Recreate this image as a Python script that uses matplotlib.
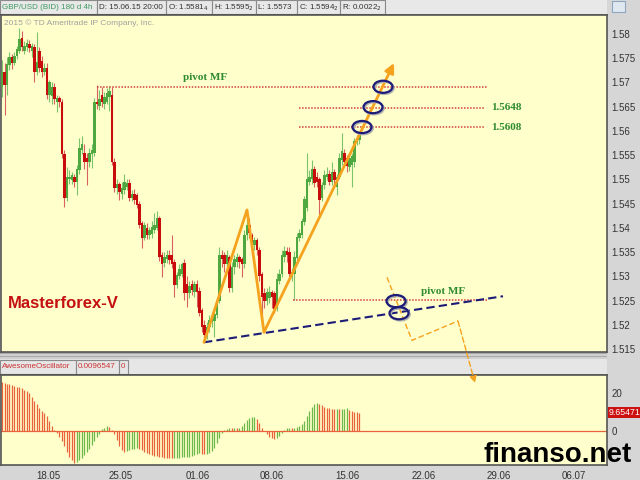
import matplotlib.pyplot as plt
from matplotlib.patches import Ellipse, Rectangle
import numpy as np

# GBP/USD 4h candles, bar index 0..143 (last bar = 15.06.15 20:00)
opens = [1.5690, 1.5722, 1.5695, 1.5735, 1.5752, 1.5740, 1.5755, 1.5765, 1.5792, 1.5765,
         1.5772, 1.5780, 1.5765, 1.5772, 1.5722, 1.5765, 1.5745, 1.5722, 1.5730, 1.5674,
         1.5672, 1.5690, 1.5660, 1.5667, 1.5660, 1.5552, 1.5462, 1.5500, 1.5498, 1.5505,
         1.5495, 1.5520, 1.5560, 1.5555, 1.5545, 1.5535, 1.5552, 1.5555, 1.5660, 1.5652,
         1.5675, 1.5655, 1.5660, 1.5670, 1.5675, 1.5536, 1.5482, 1.5490, 1.5470, 1.5478,
         1.5485, 1.5492, 1.5462, 1.5470, 1.5468, 1.5450, 1.5410, 1.5380, 1.5400, 1.5385,
         1.5388, 1.5395, 1.5400, 1.5420, 1.5345, 1.5328, 1.5335, 1.5345, 1.5345, 1.5330,
         1.5282, 1.5300, 1.5305, 1.5328, 1.5285, 1.5265, 1.5285, 1.5268, 1.5285, 1.5270,
         1.5230, 1.5200, 1.5180, 1.5195, 1.5205, 1.5208, 1.5220, 1.5250, 1.5345, 1.5345,
         1.5325, 1.5340, 1.5275, 1.5320, 1.5330, 1.5340, 1.5335, 1.5325, 1.5385, 1.5405,
         1.5385, 1.5365, 1.5375, 1.5355, 1.5305, 1.5265, 1.5250, 1.5255, 1.5268, 1.5265,
         1.5235, 1.5290, 1.5305, 1.5340, 1.5352, 1.5350, 1.5300, 1.5305, 1.5338, 1.5380,
         1.5385, 1.5412, 1.5440, 1.5495, 1.5500, 1.5522, 1.5505, 1.5500, 1.5462, 1.5488,
         1.5505, 1.5512, 1.5495, 1.5515, 1.5485, 1.5505, 1.5540, 1.5555, 1.5545, 1.5525,
         1.5530, 1.5535, 1.5578, 1.5581]
highs = [1.5746, 1.5741, 1.5752, 1.5762, 1.5758, 1.5762, 1.5775, 1.5812, 1.5805, 1.5785,
         1.5790, 1.5788, 1.5782, 1.5780, 1.5804, 1.5772, 1.5755, 1.5740, 1.5740, 1.5705,
         1.5700, 1.5698, 1.5675, 1.5672, 1.5665, 1.5560, 1.5525, 1.5520, 1.5515, 1.5512,
         1.5530, 1.5585, 1.5590, 1.5572, 1.5555, 1.5565, 1.5572, 1.5668, 1.5695, 1.5685,
         1.5690, 1.5680, 1.5688, 1.5693, 1.5690, 1.5545, 1.5500, 1.5495, 1.5495, 1.5512,
         1.5500, 1.5500, 1.5478, 1.5480, 1.5472, 1.5455, 1.5415, 1.5412, 1.5410, 1.5402,
         1.5415, 1.5430, 1.5435, 1.5425, 1.5350, 1.5350, 1.5355, 1.5355, 1.5385, 1.5335,
         1.5310, 1.5325, 1.5330, 1.5335, 1.5300, 1.5290, 1.5292, 1.5290, 1.5292, 1.5278,
         1.5235, 1.5210, 1.5205, 1.5220, 1.5222, 1.5235, 1.5250, 1.5360, 1.5355, 1.5350,
         1.5355, 1.5345, 1.5330, 1.5345, 1.5348, 1.5345, 1.5340, 1.5395, 1.5437, 1.5420,
         1.5390, 1.5382, 1.5380, 1.5360, 1.5310, 1.5275, 1.5275, 1.5280, 1.5272, 1.5270,
         1.5307, 1.5315, 1.5355, 1.5362, 1.5360, 1.5360, 1.5318, 1.5352, 1.5390, 1.5398,
         1.5420, 1.5465, 1.5555, 1.5520, 1.5540, 1.5528, 1.5515, 1.5505, 1.5495, 1.5520,
         1.5525, 1.5520, 1.5535, 1.5522, 1.5512, 1.5555, 1.5596, 1.5562, 1.5550, 1.5552,
         1.5555, 1.5585, 1.5592, 1.5595]
lows = [1.5670, 1.5633, 1.5674, 1.5725, 1.5728, 1.5735, 1.5748, 1.5760, 1.5765, 1.5758,
        1.5765, 1.5762, 1.5752, 1.5700, 1.5715, 1.5722, 1.5712, 1.5715, 1.5665, 1.5660,
        1.5655, 1.5655, 1.5638, 1.5650, 1.5545, 1.5443, 1.5455, 1.5490, 1.5490, 1.5485,
        1.5468, 1.5512, 1.5552, 1.5522, 1.5488, 1.5525, 1.5523, 1.5548, 1.5645, 1.5643,
        1.5650, 1.5645, 1.5655, 1.5640, 1.5530, 1.5475, 1.5470, 1.5457, 1.5460, 1.5470,
        1.5478, 1.5455, 1.5455, 1.5450, 1.5440, 1.5400, 1.5358, 1.5375, 1.5378, 1.5378,
        1.5380, 1.5390, 1.5395, 1.5332, 1.5298, 1.5320, 1.5328, 1.5325, 1.5318, 1.5257,
        1.5275, 1.5295, 1.5298, 1.5251, 1.5237, 1.5255, 1.5262, 1.5258, 1.5237, 1.5218,
        1.5185, 1.5164, 1.5170, 1.5185, 1.5195, 1.5175, 1.5215, 1.5245, 1.5320, 1.5310,
        1.5318, 1.5268, 1.5268, 1.5305, 1.5320, 1.5318, 1.5298, 1.5318, 1.5375, 1.5380,
        1.5355, 1.5355, 1.5345, 1.5290, 1.5195, 1.5235, 1.5240, 1.5245, 1.5235, 1.5225,
        1.5228, 1.5285, 1.5298, 1.5330, 1.5330, 1.5298, 1.5290, 1.5251, 1.5330, 1.5372,
        1.5380, 1.5405, 1.5435, 1.5488, 1.5490, 1.5485, 1.5485, 1.5426, 1.5455, 1.5480,
        1.5498, 1.5488, 1.5488, 1.5490, 1.5468, 1.5500, 1.5530, 1.5525, 1.5515, 1.5518,
        1.5485, 1.5525, 1.5570, 1.5573]
closes = [1.5722, 1.5695, 1.5737, 1.5752, 1.5740, 1.5755, 1.5768, 1.5790, 1.5772, 1.5775,
          1.5782, 1.5770, 1.5775, 1.5722, 1.5742, 1.5730, 1.5722, 1.5730, 1.5674, 1.5700,
          1.5690, 1.5665, 1.5667, 1.5660, 1.5552, 1.5462, 1.5505, 1.5505, 1.5508, 1.5495,
          1.5522, 1.5565, 1.5572, 1.5535, 1.5535, 1.5555, 1.5560, 1.5660, 1.5655, 1.5665,
          1.5660, 1.5670, 1.5678, 1.5682, 1.5536, 1.5482, 1.5490, 1.5475, 1.5482, 1.5495,
          1.5492, 1.5462, 1.5470, 1.5458, 1.5448, 1.5405, 1.5380, 1.5405, 1.5385, 1.5395,
          1.5402, 1.5405, 1.5420, 1.5340, 1.5325, 1.5340, 1.5345, 1.5333, 1.5325, 1.5283,
          1.5302, 1.5315, 1.5325, 1.5265, 1.5265, 1.5280, 1.5272, 1.5285, 1.5268, 1.5225,
          1.5195, 1.5180, 1.5195, 1.5210, 1.5212, 1.5222, 1.5245, 1.5345, 1.5335, 1.5325,
          1.5345, 1.5275, 1.5320, 1.5335, 1.5340, 1.5330, 1.5325, 1.5385, 1.5405, 1.5390,
          1.5365, 1.5375, 1.5355, 1.5300, 1.5258, 1.5250, 1.5268, 1.5268, 1.5258, 1.5232,
          1.5295, 1.5305, 1.5345, 1.5352, 1.5345, 1.5305, 1.5308, 1.5340, 1.5382, 1.5390,
          1.5415, 1.5460, 1.5500, 1.5505, 1.5522, 1.5492, 1.5495, 1.5458, 1.5488, 1.5510,
          1.5512, 1.5495, 1.5515, 1.5498, 1.5505, 1.5545, 1.5558, 1.5535, 1.5528, 1.5545,
          1.5548, 1.5580, 1.5581, 1.5594]

# Awesome Oscillator (x 1e-4)
ao = [25.8, 25.4, 25.0, 24.6, 24.2, 23.8, 23.4, 23.0, 22.5, 21.8,
      21.0, 19.8, 18.0, 16.0, 14.0, 12.0, 10.8, 9.5, 8.0, 5.5,
      2.5, 0.5, -1.0, -3.0, -5.5, -8.0, -11.0, -13.5, -15.5, -16.8,
      -16.4, -15.5, -14.2, -12.8, -11.2, -9.4, -7.4, -5.4, -3.4, -1.6,
      0.8, 1.8, 2.6, 2.2, 0.6, -1.8, -4.7, -8.0, -10.0, -10.9,
      -10.6, -10.2, -9.6, -9.4, -9.1, -9.3, -10.2, -10.9, -11.6, -12.2,
      -12.7, -13.0, -13.2, -13.5, -13.8, -14.1, -14.3, -14.4, -14.4, -14.3,
      -14.1, -14.0, -13.9, -13.8, -13.6, -13.5, -13.1, -12.7, -12.3, -11.8,
      -11.9, -12.1, -12.0, -11.8, -10.6, -9.0, -6.5, -3.5, -1.2, 0.4,
      1.2, 1.5, 1.4, 1.6, 1.5, 1.7, 2.8, 4.2, 5.6, 6.6,
      7.3, 7.6, 6.5, 4.2, 1.8, 0.2, -1.5, -3.0, -3.8, -4.0,
      -3.5, -2.8, -1.2, 0.6, 1.5, 1.8, 1.6, 1.8, 2.0, 2.6,
      3.6, 5.5, 8.0, 10.5, 12.6, 14.2, 14.6, 14.3, 13.6, 12.8,
      12.2, 11.9, 11.6, 11.4, 11.6, 11.5, 11.7, 11.8, 11.9, 11.2,
      10.5, 10.2, 9.9, 9.65]

price_ticks = [1.515, 1.52, 1.525, 1.53, 1.535, 1.54, 1.545, 1.55, 1.555, 1.56, 1.565, 1.57, 1.575, 1.58]
price_labels = ['1.515', '1.52', '1.525', '1.53', '1.535', '1.54', '1.545', '1.55', '1.555', '1.56',
                '1.565', '1.57', '1.575', '1.58']
date_labels = ['18.05', '25.05', '01.06', '08.06', '15.06', '22.06', '29.06', '06.07']
date_pos = [18.4, 47.6, 78.4, 108.0, 138.0, 168.8, 198.8, 228.8]

# annotation levels
pivot_top = 1.5691
level_1 = 1.5648
level_2 = 1.5608
pivot_low = 1.5251
wave_x = [80.8, 98.0, 104.8]
wave_y = [1.5164, 1.5437, 1.5185]
target = (156.8, 1.5740)
trend_x = [80.8, 200.4]
trend_y = [1.5164, 1.5259]
proj_x = [154.0, 164.0, 182.4]
proj_y = [1.5298, 1.5168, 1.5208]
proj_end = (189.2, 1.5080)
ring_x = [152.4, 148.4, 144.0, 157.6, 158.8]
ring_y = [1.5691, 1.5649, 1.5608, 1.5249, 1.5224]

W, H = 640, 480
def rect(x0, y0, x1, y1):
    return [x0 / W, 1 - y1 / H, (x1 - x0) / W, (y1 - y0) / H]

plt.rcParams['font.family'] = ['Liberation Sans', 'DejaVu Sans']
fig = plt.figure(figsize=(6.4, 4.8), dpi=100, facecolor='#d6d6d6')

yellow = '#ffffcc'
orange = '#f5a21e'
navy = '#1c1c78'
txt_gray = '#333333'

# ---- main price panel ----
ax = fig.add_axes(rect(1, 15, 607, 352))
ax.set_zorder(5)
ax.set_facecolor(yellow)
x = np.arange(len(closes))
o = np.array(opens); h = np.array(highs); l = np.array(lows); c = np.array(closes)
up = c >= o
ax.vlines(x[up], l[up], h[up], color='#7cc46c', lw=0.8, zorder=2)
ax.vlines(x[~up], l[~up], h[~up], color='#d86060', lw=0.8, zorder=2)
ax.bar(x[up], np.maximum((c - o)[up], 0.00015), bottom=o[up], width=0.9, color='#4fa83f', zorder=3)
ax.bar(x[~up], np.minimum((c - o)[~up], -0.00015), bottom=o[~up], width=0.9, color='#c80c0c', zorder=3)

ax.set_xlim(-0.4, 242)
ax.set_ylim(1.5144, 1.5839)
ax.yaxis.tick_right()
ax.set_yticks(price_ticks)
ax.set_yticklabels(price_labels)
ax.tick_params(axis='y', length=0, pad=3, labelsize=7, colors=txt_gray)
ax.set_xticks([])
for s in ax.spines.values():
    s.set_color('#555555')
    s.set_linewidth(1.2)

# pivot / level lines
ax.hlines(pivot_top, 38, 194, colors='#d04040', linestyles=(0, (1, 1)), lw=1.1, zorder=4)
ax.hlines([level_1, level_2], 119, 193, colors='#d04040', linestyles=(0, (1, 1)), lw=1.1, zorder=4)
ax.hlines(pivot_low, 116.4, 194, colors='#d04040', linestyles=(0, (1, 1)), lw=1.1, zorder=4)

serif = ['Liberation Serif', 'DejaVu Serif']
ax.text(81.2, 1.5711, 'pivot MF', color='#2e8b2e', fontsize=8, fontweight='bold',
        family=serif, ha='center', va='center')
ax.text(176.4, 1.5268, 'pivot MF', color='#2e8b2e', fontsize=8, fontweight='bold',
        family=serif, ha='center', va='center')
ax.text(195.6, level_1, '1.5648', color='#2e8b2e', fontsize=8, fontweight='bold',
        family=serif, ha='left', va='center')
ax.text(195.6, level_2, '1.5608', color='#2e8b2e', fontsize=8, fontweight='bold',
        family=serif, ha='left', va='center')

# support trend line
ax.plot(trend_x, trend_y, color=navy, lw=1.5, ls=(0, (4, 2)), zorder=5)

# wave structure
ax.plot(wave_x, wave_y, color=orange, lw=2, zorder=6, solid_capstyle='round')
ax.annotate('', xy=target, xytext=(wave_x[-1], wave_y[-1]),
            arrowprops=dict(arrowstyle='-|>', color=orange, lw=2, mutation_scale=14,
                            shrinkA=0, shrinkB=0), zorder=6)

# alternative projection (runs down into the oscillator pane)
ax.plot(proj_x, proj_y, color=orange, lw=1, ls=(0, (4, 2)), zorder=6)
ax.annotate('', xy=proj_end, xytext=(proj_x[-1], proj_y[-1]), annotation_clip=False,
            arrowprops=dict(arrowstyle='-|>', color=orange, lw=1, ls=(0, (4, 2)),
                            mutation_scale=10, shrinkA=0, shrinkB=0), zorder=20)

for rx, ry in zip(ring_x, ring_y):
    ax.add_patch(Ellipse((rx + 0.5, ry - 0.00025), 7.6, 0.0025, fill=False,
                         ec='#b0b0b0', lw=1.5, zorder=6))
    ax.add_patch(Ellipse((rx, ry), 7.6, 0.0025, fill=False, ec=navy, lw=1.6, zorder=7))

ax.text(2.4, 1.5245, 'Masterforex-V', color='#c41010', fontsize=12, fontweight='bold',
        ha='left', va='center')
ax.text(0.6, 1.5823, '2015 \u00a9 TD Ameritrade IP Company, Inc.', color='#a0a0a0',
        fontsize=6, ha='left', va='center')

# ---- header bar ----
hd = fig.add_axes(rect(0, 0, 607, 15))
hd.set_facecolor('#e8e8e8')
hd.set_xlim(0, 607)
hd.set_ylim(15, 0)
hd.axis('off')
fields = [(0, 97, 'GBP/USD (BID) 180 d 4h', '#3c9a5f'),
          (97, 166, 'D: 15.06.15 20:00', txt_gray),
          (166, 212, 'O: 1.5581$_4$', txt_gray),
          (212, 256, 'H: 1.5595$_2$', txt_gray),
          (256, 297, 'L: 1.5573', txt_gray),
          (297, 340, 'C: 1.5594$_2$', txt_gray),
          (340, 385, 'R: 0.0022$_2$', txt_gray)]
hd.add_patch(Rectangle((0, 0), 607, 15, fc='#e8e8e8', ec='none'))
for x0, x1, label, col in fields:
    hd.add_patch(Rectangle((x0, 0), x1 - x0, 14, fc='#e8e8e8', ec='#8a8a8a', lw=0.8))
    hd.text(x0 + 2, 7.5, label, color=col, fontsize=5.8, ha='left', va='center')
hd.plot([0, 607], [14.5, 14.5], color='#555555', lw=1.2)

# small chart icon in the top-right corner
fig.patches.append(Rectangle((612 / W, 1 - 12 / H), 13 / W, 11 / H, transform=fig.transFigure,
                             fc='#dfe8f0', ec='#8fa6c0', lw=0.8))

# ---- separator ----
sp = fig.add_axes(rect(0, 352, 607, 359))
sp.set_xlim(0, 607)
sp.set_ylim(0, 7)
sp.axis('off')
sp.add_patch(Rectangle((0, 0), 607, 7, fc='#a8a8a8', zorder=0))
for yy in [1, 2.5, 4, 5.5]:
    sp.plot([0, 607], [yy, yy], color='#d8d8d8', lw=0.6)

# ---- AO header ----
ah = fig.add_axes(rect(0, 359, 607, 375))
ah.set_xlim(0, 607)
ah.set_ylim(16, 0)
ah.axis('off')
ah.add_patch(Rectangle((0, 0), 607, 16, fc='#e6e6e6', ec='none'))
for x0, x1, label in [(0, 76, 'AwesomeOscillator'), (76, 119, '0.0096547'), (119, 128, '0')]:
    ah.add_patch(Rectangle((x0, 1), x1 - x0, 14, fc='#e6e6e6', ec='#8a8a8a', lw=0.8))
    ah.text(x0 + 2, 8, label, color='#cc3333', fontsize=5.8, ha='left', va='center')
ah.plot([0, 607], [15.5, 15.5], color='#555555', lw=1.2)

# ---- AO panel ----
aa = fig.add_axes(rect(1, 375, 607, 465))
aa.set_facecolor(yellow)
a = np.array(ao)
rising = np.concatenate([[False], a[1:] > a[:-1]])
aa.vlines(x[rising], 0, a[rising], color='#6cb84a', lw=0.9)
aa.vlines(x[~rising], 0, a[~rising], color='#e8623c', lw=0.9)
aa.axhline(0, color='#e8623c', lw=0.9)
aa.set_xlim(-0.4, 242)
aa.set_ylim(-17.9, 29.5)
aa.yaxis.tick_right()
aa.set_yticks([0, 20])
aa.set_yticklabels(['0', '20'])
aa.tick_params(axis='y', length=0, pad=3, labelsize=7, colors=txt_gray)
aa.set_xticks(date_pos)
aa.set_xticklabels(date_labels)
aa.tick_params(axis='x', length=0, pad=4, labelsize=7, colors=txt_gray)
for s in aa.spines.values():
    s.set_color('#555555')
    s.set_linewidth(1.2)
aa.text(1.003, 9.65, '9.65471', transform=aa.get_yaxis_transform(), color='white',
        fontsize=6.3, ha='left', va='center',
        bbox=dict(boxstyle='square,pad=0.12', fc='#cc1111', ec='none'))

fig.text(558 / W, 1 - 455 / H, 'finanso.net', color='black', fontsize=20,
         fontweight='bold', ha='center', va='center', zorder=30)

fig.savefig('out.png', dpi=100, facecolor=fig.get_facecolor())
